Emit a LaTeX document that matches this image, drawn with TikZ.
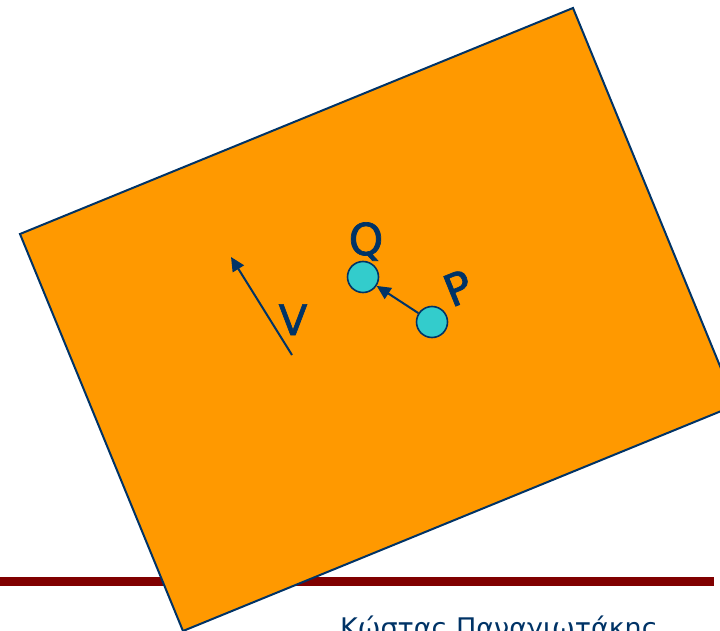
\documentclass[tikz,border=0pt]{standalone}
\usepackage{fontspec}
\setmainfont{DejaVu Sans}
\newfontfamily\lblfont[RawFeature={embolden=1.6}]{DejaVu Sans}
\usetikzlibrary{arrows.meta}
\definecolor{torange}{HTML}{FF9900}
\definecolor{tcyan}{HTML}{33CCCC}
\definecolor{tnavy}{HTML}{003366}
\definecolor{tmaroon}{HTML}{800000}

\begin{document}
\begin{tikzpicture}[x=1pt, y=-1pt,
  pt/.style={circle, draw=tnavy, fill=tcyan, line width=1.6pt, minimum size=31pt, inner sep=0pt},
  lbl/.style={text=tnavy, font=\lblfont\fontsize{44}{44}\selectfont, inner sep=0pt},
  arr/.style={-{Triangle[length=14pt, width=13pt]}, draw=tnavy, line width=2pt}]
\useasboundingbox (0,0) rectangle (720,631);
\clip (0,0) rectangle (720,631);

% --- rule across the slide ---
\draw[tmaroon, line width=9pt] (0,581.5) -- (714,581.5);

% --- the tilted plane ---
\draw[fill=torange, draw=tnavy, line width=2pt]
  (20,234) -- (573,8) -- (736,405) -- (183,631) -- cycle;

% --- direction v ---
\coordinate (vtail) at (292,355);
\coordinate (vhead) at (231,257);
\draw[arr] (vtail) -- (vhead);
\node[lbl, font=\lblfont\fontsize{42}{42}\selectfont, anchor=base] (v) at (293,335) {V};

% --- the two points ---
\node[pt] (Q) at (363,277) {};
\node[pt] (P) at (432,322) {};
\draw[arr] (P) -- (Q);
\node[lbl, anchor=base] (qlab) at (366,255) {Q};
\node[lbl, rotate=22] (plab) at (458,288) {P};

% --- author ---
\node[text=tnavy, font=\fontsize{27}{27}\selectfont, anchor=base west, inner sep=0pt]
  (author) at (340,637) {Κώστας Παναγιωτάκης};
\end{tikzpicture}
\end{document}
